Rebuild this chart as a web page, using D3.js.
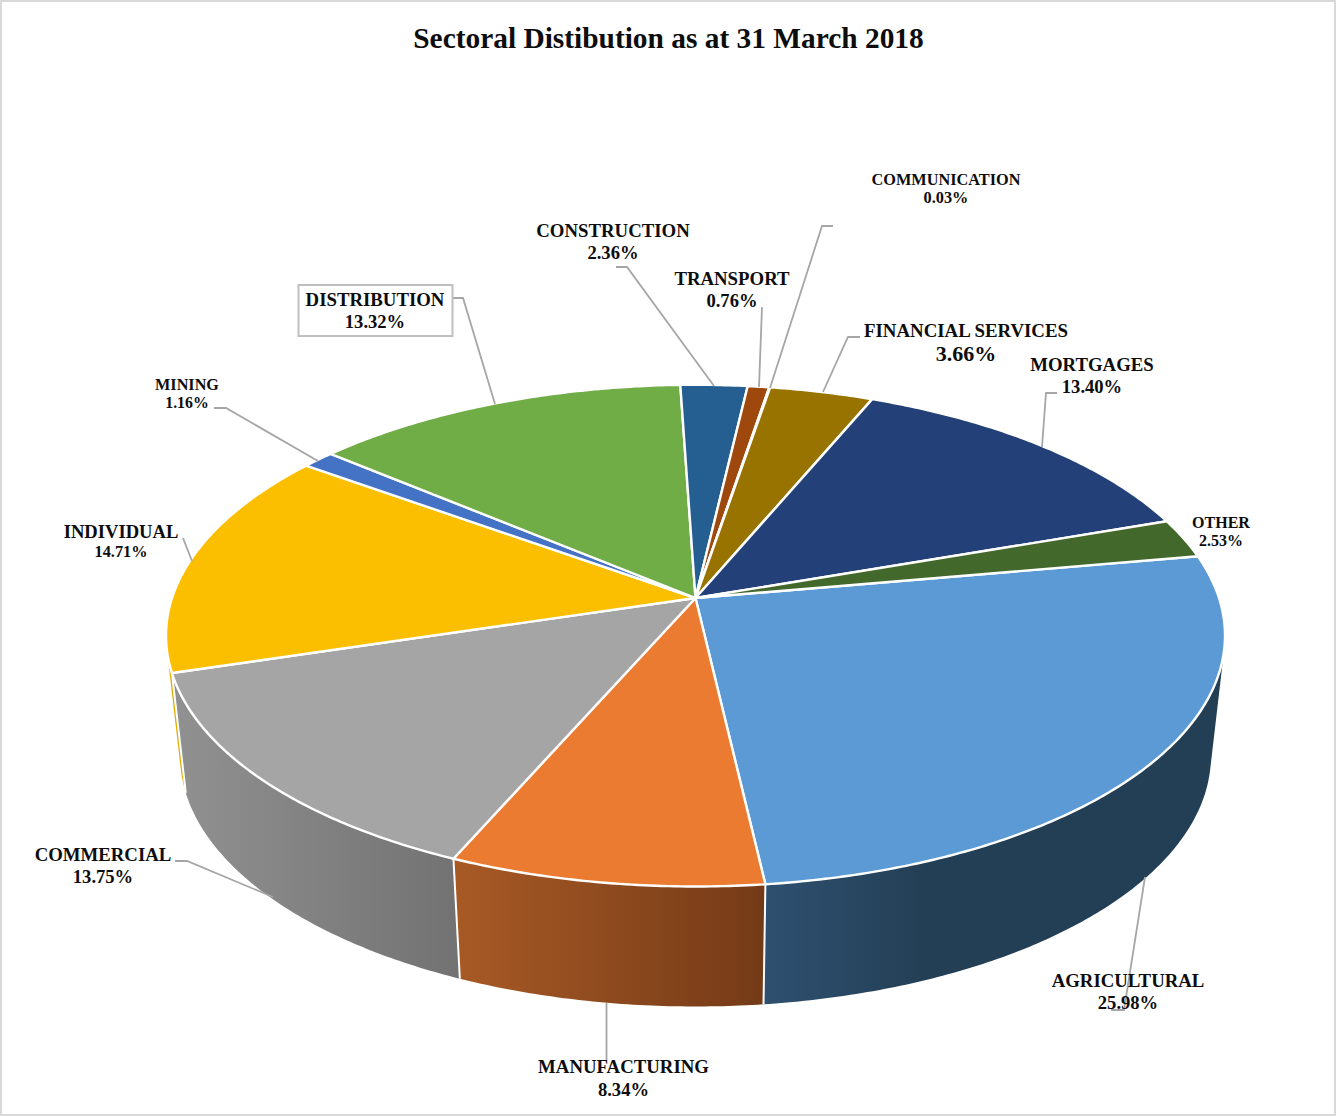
<!DOCTYPE html>
<html>
<head>
<meta charset="utf-8">
<title>Sectoral Distibution as at 31 March 2018</title>
<script src="https://cdn.jsdelivr.net/npm/d3@7"></script>
<style>
  html, body { margin: 0; padding: 0; background: #fff; }
  svg { display: block; }
  text { font-family: "Liberation Serif", serif; font-weight: bold; fill: #0d0d0d; text-anchor: middle; }
</style>
</head>
<body>
<svg id="chart" width="1336" height="1116"></svg>
<script>
// Sector names and their share of the total, clockwise from the first slice
const categories = ["AGRICULTURAL", "MANUFACTURING", "COMMERCIAL", "INDIVIDUAL", "MINING", "DISTRIBUTION",
                    "CONSTRUCTION", "TRANSPORT", "COMMUNICATION", "FINANCIAL SERVICES", "MORTGAGES", "OTHER"];
const shares = [25.98, 8.34, 13.75, 14.71, 1.16, 13.32, 2.36, 0.76, 0.03, 3.66, 13.40, 2.53];

const topColors = ["#5b9ad5", "#eb7b31", "#a5a5a5", "#fcbf00", "#4472c4", "#70ad47",
                   "#255e91", "#9e480e", "#636363", "#997300", "#244079", "#43682b"];

// Wall shading, as [left, right] colours of a horizontal gradient
const wallColors = [["#2e5070", "#233f55"], ["#a85a25", "#743a17"], ["#919191", "#727272"], ["#e3aa00", "#e3aa00"],
                    ["#2f5090", "#2f5090"], ["#4f7a32", "#4f7a32"], ["#1a4266", "#1a4266"], ["#6e320a", "#6e320a"],
                    ["#454545", "#454545"], ["#6b5000", "#6b5000"], ["#1b3054", "#1b3054"], ["#2f491e", "#2f491e"]];

// Label placement: centre x, first and second baseline, font sizes of the two lines
const labelLayout = [
  [1128, 987, 1009, 18.8, 18.6], [623.5, 1073, 1096, 18.8, 18.6], [103, 861, 883, 18.8, 18.6],
  [121, 538, 557, 18.6, 16.3], [187, 390, 408, 16.2, 15.8], [375, 306, 328, 18.8, 18.6],
  [613, 237, 259, 18.8, 18.6], [732, 285, 307, 18.8, 18.6], [946, 185, 203, 16.3, 16.3],
  [966, 337, 361, 18.85, 22], [1092, 371, 393, 18.8, 18.6], [1221, 528, 546, 16, 16]
];

// Leader lines from label to slice
const leaders = [
  [[1111, 1010], [1124, 1010], [1145, 877]],
  [[606.5, 1060], [606.5, 1003]],
  [[175, 861], [187, 861], [273, 897]],
  [[183, 538], [192, 561]],
  [[214, 408], [226, 408], [318, 461]],
  [[453, 298], [463, 298], [495, 404]],
  [[616, 267], [627, 267], [714, 386]],
  [[762, 307], [759, 387]],
  [[833, 226], [822, 226], [770, 388]],
  [[860, 337], [848, 337], [823, 392]],
  [[1057, 393], [1046, 393], [1042, 447]]
];

const title = "Sectoral Distibution as at 31 March 2018";

// Perspective view of the disc: apex on screen, radii and foreshortening
const W = 1336, H = 1116;
const apex = { x: 695.5, y: 598 };
const radiusX = 523.5, radiusY = 245.2, tilt = 0.15;
const wallDrop = 120, baseShrink = 0.9735;
const firstAngle = 79.95 * Math.PI / 180;

function project(angle, level) {
  const u = Math.sin(angle), v = -Math.cos(angle);
  const s = 1 / (1 - tilt * v);
  const xScale = level ? baseShrink : 1;
  return [apex.x + radiusX * u * s * xScale, apex.y + (level ? wallDrop : 0) + radiusY * v * s];
}

function arcPoints(a0, a1, level) {
  const n = Math.max(2, Math.ceil((a1 - a0) / 0.01));
  return d3.range(n + 1).map(i => project(a0 + (a1 - a0) * i / n, level));
}

// Wall of one slice as a run of small quads, all wound the same way so the
// silhouette between the upper and lower rims is filled
function wallPath(upper, lower) {
  let path = "";
  for (let i = 0; i < upper.length - 1; i++) {
    const quad = [upper[i], upper[i + 1], lower[i + 1], lower[i]];
    if (d3.polygonArea(quad) < 0) quad.reverse();
    path += line(quad) + "Z";
  }
  return path;
}

const pieLayout = d3.pie().sort(null).startAngle(firstAngle).endAngle(firstAngle + 2 * Math.PI);
const slices = pieLayout(shares).map((d, i) => ({ ...d, i }));
const line = d3.line();

const svg = d3.select("#chart");
const defs = svg.append("defs");

// Chart frame
svg.append("rect").attr("x", 1).attr("y", 1).attr("width", W - 2).attr("height", H - 2)
  .attr("fill", "#fff").attr("stroke", "#d9d9d9").attr("stroke-width", 2);

// Side walls, painted back to front
const wallOrder = slices.slice().sort((a, b) =>
  -Math.cos((a.startAngle + a.endAngle) / 2) + Math.cos((b.startAngle + b.endAngle) / 2));

wallOrder.forEach(d => {
  const upper = arcPoints(d.startAngle, d.endAngle, 0);
  const lower = arcPoints(d.startAngle, d.endAngle, 1);
  const [xMin, xMax] = d3.extent(upper.concat(lower), p => p[0]);
  const grad = defs.append("linearGradient").attr("id", "wall" + d.i)
    .attr("gradientUnits", "userSpaceOnUse")
    .attr("x1", xMin).attr("x2", xMax).attr("y1", 0).attr("y2", 0);
  grad.append("stop").attr("offset", 0).attr("stop-color", wallColors[d.i][0]);
  grad.append("stop").attr("offset", d.i === 0 ? 0.35 : 1).attr("stop-color", wallColors[d.i][1]);
  svg.append("path").attr("d", wallPath(upper, lower)).attr("fill", `url(#wall${d.i})`);
});

// White seams between the walls that face the viewer
slices.filter(d => -Math.cos(d.endAngle) > 0).forEach(d => {
  svg.append("path")
    .attr("d", line([project(d.endAngle, 0), project(d.endAngle, 1)]))
    .attr("stroke", "#fff").attr("stroke-width", 2).attr("fill", "none");
});

// Top face
svg.append("g").selectAll("path").data(slices).join("path")
  .attr("d", d => line([[apex.x, apex.y], ...arcPoints(d.startAngle, d.endAngle, 0)]) + "Z")
  .attr("fill", d => topColors[d.i])
  .attr("stroke", "#fff").attr("stroke-width", 2.4).attr("stroke-linejoin", "round");

// Leader lines
svg.append("g").selectAll("path").data(leaders).join("path")
  .attr("d", d => line(d))
  .attr("fill", "none").attr("stroke", "#a6a6a6").attr("stroke-width", 1.8);

// Boxed label outline for the distribution sector
svg.append("rect").attr("x", 298.5).attr("y", 285).attr("width", 154).attr("height", 51)
  .attr("fill", "#fff").attr("stroke", "#bfbfbf").attr("stroke-width", 2);

// Labels
const labels = svg.append("g");
categories.forEach((name, i) => {
  const [cx, y1, y2, fs1, fs2] = labelLayout[i];
  labels.append("text").attr("x", cx).attr("y", y1).attr("font-size", fs1).text(name);
  labels.append("text").attr("x", cx).attr("y", y2).attr("font-size", fs2).text(shares[i].toFixed(2) + "%");
});

svg.append("text").attr("x", 668.5).attr("y", 48).attr("font-size", 29.4).text(title);
</script>
</body>
</html>
